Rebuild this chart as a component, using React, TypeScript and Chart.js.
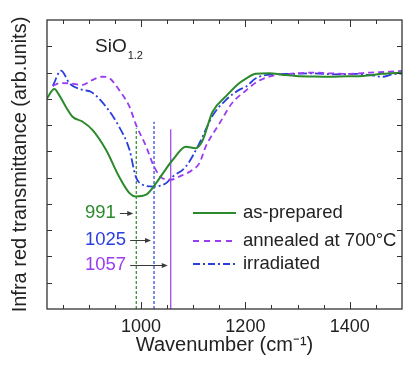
import { useEffect, useRef } from 'react';
import { Chart, registerables } from 'chart.js';

Chart.register(...registerables);

// ---- data ----
const wnAsPrepared = [820, 834, 843, 856, 869, 888, 907, 933, 958, 978, 990, 1010, 1029, 1045, 1061, 1086, 1105, 1117, 1137, 1163, 1188, 1202, 1220, 1246, 1270, 1297, 1330, 1361, 1395, 1425, 1463, 1500];
const tAsPrepared = [8.02, 8.37, 8.15, 7.7, 7.32, 7.13, 6.82, 6.06, 5.04, 4.41, 4.28, 4.35, 4.79, 5.25, 5.68, 6.18, 6.12, 6.37, 7.5, 8.1, 8.59, 8.78, 8.95, 8.97, 8.92, 8.87, 8.85, 8.84, 8.86, 8.87, 8.95, 9.0];

const wnAnnealed = [831, 845, 863, 888, 905, 926, 940, 958, 978, 990, 1010, 1025, 1041, 1057, 1073, 1099, 1112, 1124, 1150, 1175, 1200, 1225, 1259, 1284, 1329, 1361, 1400, 1440, 1476, 1500];
const tAnnealed = [8.49, 8.6, 8.59, 8.53, 8.7, 8.84, 8.78, 8.34, 7.7, 7.04, 6.18, 5.42, 4.98, 4.92, 5.04, 5.3, 5.55, 6.18, 7.05, 7.85, 8.3, 8.68, 8.91, 8.95, 9.0, 8.97, 8.95, 9.0, 9.03, 9.06];

const wnIrradiated = [831, 847, 863, 888, 904, 933, 958, 978, 990, 1003, 1025, 1048, 1061, 1086, 1112, 1137, 1163, 1188, 1201, 1220, 1252, 1290, 1330, 1370, 1410, 1440, 1463, 1480, 1500];
const tIrradiated = [8.49, 9.07, 8.59, 8.34, 8.27, 7.7, 6.94, 6.06, 5.04, 4.73, 4.66, 4.79, 5.04, 5.42, 6.31, 7.35, 7.96, 8.34, 8.46, 8.78, 8.93, 8.95, 8.97, 8.93, 8.95, 8.9, 8.84, 8.92, 8.97];

const peakPositions = [991, 1025, 1057];
const peakLineTops = [6.88, 7.13, 6.84];
const peakLabels = ['991', '1025', '1057'];

const seriesNames = ['as-prepared', 'annealed at 700°C', 'irradiated'];
const xTickLabels = [1000, 1200, 1400];

const X_MIN = 820;
const X_MAX = 1500;
const Y_MIN = 0;
const Y_MAX = 11;

// ---- styles ----
const FONT = "'Liberation Sans', Arial, Helvetica, sans-serif";
const GREEN = '#2b8a2b';
const PURPLE = '#9a3cf0';
const BLUE = '#2a3ee0';
const AXIS = '#333333';
const TEXT = '#222222';

const zip = (xs: number[], ys: number[]) => xs.map((x, i) => ({ x, y: ys[i] }));

const framePlugin = {
  id: 'frameAndNotes',
  afterDraw(chart: any) {
    const { ctx, chartArea: a, scales } = chart;
    const xs = scales.x;
    const ys = scales.y;
    ctx.save();
    // frame
    ctx.strokeStyle = AXIS;
    ctx.lineWidth = 1.3;
    ctx.setLineDash([]);
    ctx.strokeRect(a.left, a.top, a.right - a.left, a.bottom - a.top);
    // x ticks (inside, top and bottom)
    ctx.lineWidth = 1;
    for (let v = 850; v < X_MAX; v += 50) {
      const px = Math.round(xs.getPixelForValue(v)) + 0.5;
      const len = xTickLabels.includes(v) ? 7 : 4;
      ctx.beginPath();
      ctx.moveTo(px, a.bottom);
      ctx.lineTo(px, a.bottom - len);
      ctx.moveTo(px, a.top);
      ctx.lineTo(px, a.top + len);
      ctx.stroke();
    }
    // y ticks (inside, left and right)
    for (let v = Y_MIN + 1; v < Y_MAX; v += 1) {
      const py = Math.round(ys.getPixelForValue(v)) + 0.5;
      ctx.beginPath();
      ctx.moveTo(a.left, py);
      ctx.lineTo(a.left + 5, py);
      ctx.moveTo(a.right, py);
      ctx.lineTo(a.right - 5, py);
      ctx.stroke();
    }

    // SiO1.2 label
    ctx.fillStyle = TEXT;
    ctx.textBaseline = 'middle';
    ctx.textAlign = 'left';
    ctx.font = `19px ${FONT}`;
    ctx.fillText('SiO', 95, 47);
    const w = ctx.measureText('SiO').width;
    ctx.font = `11px ${FONT}`;
    ctx.fillText('1.2', 95 + w + 1, 56);

    // peak labels + arrows
    const rowY = [213, 240, 265];
    const labelColors = [GREEN, BLUE, PURPLE];
    ctx.font = `18.5px ${FONT}`;
    peakLabels.forEach((lab, i) => {
      ctx.fillStyle = labelColors[i];
      ctx.fillText(lab, 85, rowY[i]);
      const tw = ctx.measureText(lab).width;
      const x0 = 85 + tw + 4;
      const x1 = xs.getPixelForValue(peakPositions[i]) - 3;
      ctx.strokeStyle = '#3a3a3a';
      ctx.fillStyle = '#3a3a3a';
      ctx.lineWidth = 1;
      ctx.beginPath();
      ctx.moveTo(x0, rowY[i] + 0.5);
      ctx.lineTo(x1 - 4, rowY[i] + 0.5);
      ctx.stroke();
      ctx.beginPath();
      ctx.moveTo(x1, rowY[i] + 0.5);
      ctx.lineTo(x1 - 6, rowY[i] - 2);
      ctx.lineTo(x1 - 6, rowY[i] + 3);
      ctx.closePath();
      ctx.fill();
    });

    // legend
    const legColors = [GREEN, PURPLE, BLUE];
    const legDash = [[], [6, 5], [7, 3, 2, 3]];
    const legY = [213, 241, 264];
    seriesNames.forEach((name, i) => {
      ctx.strokeStyle = legColors[i];
      ctx.lineWidth = 1.8;
      ctx.setLineDash(legDash[i]);
      ctx.beginPath();
      ctx.moveTo(193, legY[i]);
      ctx.lineTo(236, legY[i]);
      ctx.stroke();
      ctx.setLineDash([]);
      ctx.fillStyle = TEXT;
      ctx.font = `18.5px ${FONT}`;
      ctx.fillText(name, 243, legY[i]);
    });
    ctx.restore();
  },
};

export default function App() {
  const ref = useRef<HTMLCanvasElement>(null);
  useEffect(() => {
    if (!ref.current) return;
    const peakColors = [GREEN, BLUE, PURPLE];
    const peakDash = [[3, 2], [3, 2], []];
    const peakSets = peakPositions.map((p, i) => ({
      label: 'peak ' + peakLabels[i],
      data: [{ x: p, y: Y_MIN }, { x: p, y: peakLineTops[i] }],
      borderColor: peakColors[i],
      borderWidth: 1.2,
      borderDash: peakDash[i],
      pointRadius: 0,
      tension: 0,
    }));
    const chart = new Chart(ref.current, {
      type: 'line',
      data: {
        datasets: [
          {
            label: seriesNames[0],
            data: zip(wnAsPrepared, tAsPrepared),
            borderColor: GREEN,
            borderWidth: 2,
            pointRadius: 0,
            cubicInterpolationMode: 'monotone',
          },
          {
            label: seriesNames[1],
            data: zip(wnAnnealed, tAnnealed),
            borderColor: PURPLE,
            borderWidth: 1.8,
            borderDash: [6, 4],
            pointRadius: 0,
            cubicInterpolationMode: 'monotone',
          },
          {
            label: seriesNames[2],
            data: zip(wnIrradiated, tIrradiated),
            borderColor: BLUE,
            borderWidth: 1.8,
            borderDash: [9, 3, 2, 3],
            pointRadius: 0,
            cubicInterpolationMode: 'monotone',
          },
          ...peakSets,
        ] as any,
      },
      options: {
        responsive: false,
        animation: false,
        layout: { padding: { top: 20, right: 3, left: 0, bottom: 0 } },
        plugins: {
          legend: { display: false },
          tooltip: { enabled: false },
        },
        scales: {
          x: {
            type: 'linear',
            min: X_MIN,
            max: X_MAX,
            afterBuildTicks: (s: any) => {
              s.ticks = xTickLabels.map((v) => ({ value: v }));
            },
            afterFit: (s: any) => {
              s.height = 58;
            },
            grid: { display: false, drawTicks: false },
            border: { display: false },
            ticks: {
              padding: 7,
              maxRotation: 0,
              autoSkip: false,
              color: TEXT,
              font: { family: FONT, size: 18 },
              callback: (v: any) => String(v),
            },
            title: {
              display: true,
              text: 'Wavenumber (cm⁻¹)',
              color: TEXT,
              font: { family: FONT, size: 20 },
              padding: { top: 0, bottom: 10 },
            },
          },
          y: {
            type: 'linear',
            min: Y_MIN,
            max: Y_MAX,
            afterFit: (s: any) => {
              s.width = 47;
            },
            grid: { display: false, drawTicks: false },
            border: { display: false },
            ticks: { display: false, stepSize: 1 },
            title: {
              display: true,
              text: 'Infra red transmittance (arb.units)',
              color: TEXT,
              font: { family: FONT, size: 20 },
              padding: { top: 8, bottom: 0 },
            },
          },
        },
      } as any,
      plugins: [framePlugin],
    });
    return () => chart.destroy();
  }, []);
  return (
    <div style={{ position: 'absolute', left: 0, top: 0, width: 405, height: 367, background: '#fff' }}>
      <canvas ref={ref} width={405} height={367} style={{ display: 'block' }} />
    </div>
  );
}
